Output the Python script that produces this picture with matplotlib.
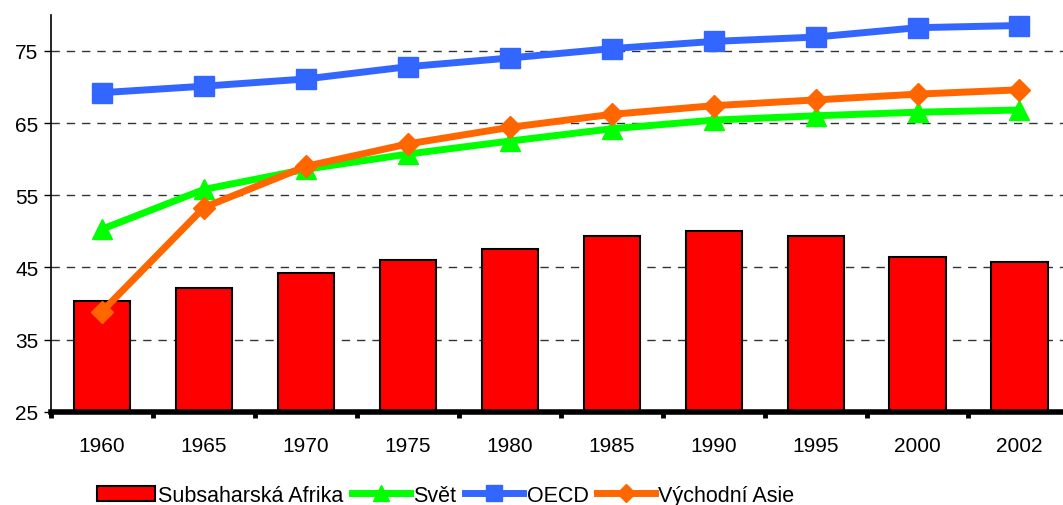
import matplotlib.pyplot as plt
import numpy as np

# Data
years = ['1960', '1965', '1970', '1975', '1980', '1985', '1990', '1995', '2000', '2002']
subsaharska = [40.3, 42.2, 44.3, 46.1, 47.6, 49.3, 50.0, 49.3, 46.5, 45.8]
svet = [50.3, 55.8, 58.6, 60.7, 62.5, 64.2, 65.4, 66.0, 66.5, 66.8]
oecd = [69.2, 70.1, 71.1, 72.8, 74.0, 75.3, 76.3, 76.9, 78.2, 78.5]
vychodni_asie = [38.9, 53.3, 59.0, 62.1, 64.4, 66.2, 67.4, 68.2, 69.0, 69.6]

plt.rcParams['font.family'] = ['Liberation Sans', 'DejaVu Sans']
plt.rcParams['font.size'] = 15

fig = plt.figure(figsize=(10.63, 5.06), dpi=100)
ax = fig.add_axes([0.048, 0.184, 0.959, 0.785])

x = np.arange(len(years))

# Bars + lines
bars = ax.bar(x, subsaharska, width=0.55, color='#FF0000', edgecolor='black',
              linewidth=1.5, label='Subsaharská Afrika', zorder=2)
l1, = ax.plot(x, svet, color='#00FF00', lw=5, marker='^', ms=15,
              label='Svět', zorder=3)
l2, = ax.plot(x, oecd, color='#3366FF', lw=5, marker='s', ms=14,
              label='OECD', zorder=3)
l3, = ax.plot(x, vychodni_asie, color='#FF6600', lw=5, marker='D', ms=11,
              label='Východní Asie', zorder=4)

# Axes
ax.set_xlim(-0.5, 9.5)
ax.set_ylim(25, 80)
ax.set_yticks([25, 35, 45, 55, 65, 75])
ax.set_xticks(x)
ax.set_xticklabels(years)
ax.set_xticks(np.arange(-0.5, 10, 1), minor=True)
ax.tick_params(axis='x', which='major', length=0, pad=17)
ax.tick_params(axis='x', which='minor', length=4, width=3.5, direction='out')
ax.tick_params(axis='y', length=5, width=1, pad=4)
ax.yaxis.grid(True, linestyle=(0, (6, 5)), color='#333333', lw=1, zorder=1)
ax.set_axisbelow(True)

ax.spines['top'].set_visible(False)
ax.spines['right'].set_visible(False)
ax.spines['bottom'].set_linewidth(4)
ax.spines['left'].set_linewidth(1.2)

# Legend
fig.legend(handles=[bars, l1, l2, l3], loc='lower left',
           bbox_to_anchor=(0.073, -0.04), ncol=4,
           frameon=False, handlelength=2.7, handletextpad=0.15,
           columnspacing=0.4, fontsize=15.5, markerscale=0.8)

fig.savefig('out.png', dpi=100)
